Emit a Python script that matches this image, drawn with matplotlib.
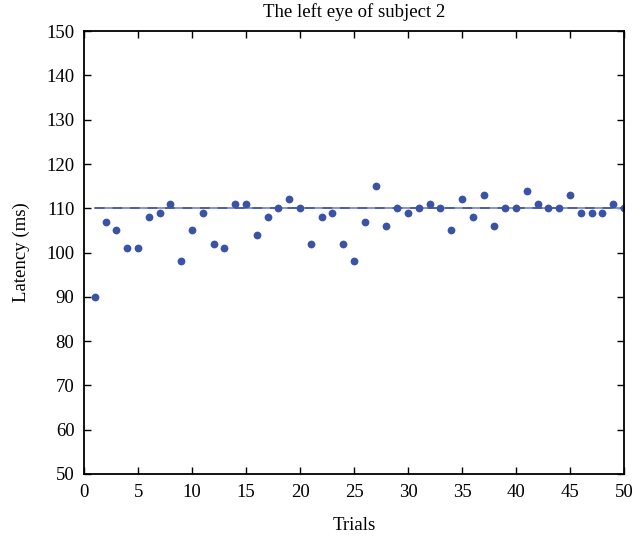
import numpy as np
import matplotlib
matplotlib.use('Agg')
import matplotlib.pyplot as plt

plt.rcParams['font.family'] = ['Liberation Serif', 'DejaVu Serif']

#Latency per trial
trials = np.arange(1, 51)
latency = [90, 107, 105, 101, 101, 108, 109, 111, 98, 105,
           109, 102, 101, 111, 111, 104, 108, 110, 112, 110,
           102, 108, 109, 102, 98, 107, 115, 106, 110, 109,
           110, 111, 110, 105, 112, 108, 113, 106, 110, 110,
           114, 111, 110, 110, 113, 109, 109, 109, 111, 110]
ref_level = 110

fig = plt.figure(figsize=(6.42, 5.38), dpi=100)
ax = fig.add_axes([0.131, 0.119, 0.841, 0.823])

ax.plot([trials[0], trials[-1]], [ref_level, ref_level], color='#8595cc', lw=1.4)
ax.plot([trials[0], trials[-1]], [ref_level, ref_level], color='#4a60ad', lw=1.4,
        ls=(0, (5, 4)))
ax.plot(trials, latency, 'o', color='#3a53a4', markersize=5.6, markeredgewidth=0)

ax.set_xlim(0, 50)
ax.set_ylim(50, 150)
ax.set_xticks(np.arange(0, 51, 5))
ax.set_yticks(np.arange(50, 151, 10))
ax.tick_params(direction='in', top=True, right=True, labelsize=13.5, length=5,
               width=1, pad=7)
for s in ax.spines.values():
    s.set_linewidth(1.3)

ax.set_xlabel('Trials', fontsize=13.5, labelpad=12)
ax.set_ylabel('Latency (ms)', fontsize=13.5, labelpad=12)
ax.set_title('The left eye of subject 2', fontsize=13.5, pad=10)

fig.savefig('out.png', dpi=100)
